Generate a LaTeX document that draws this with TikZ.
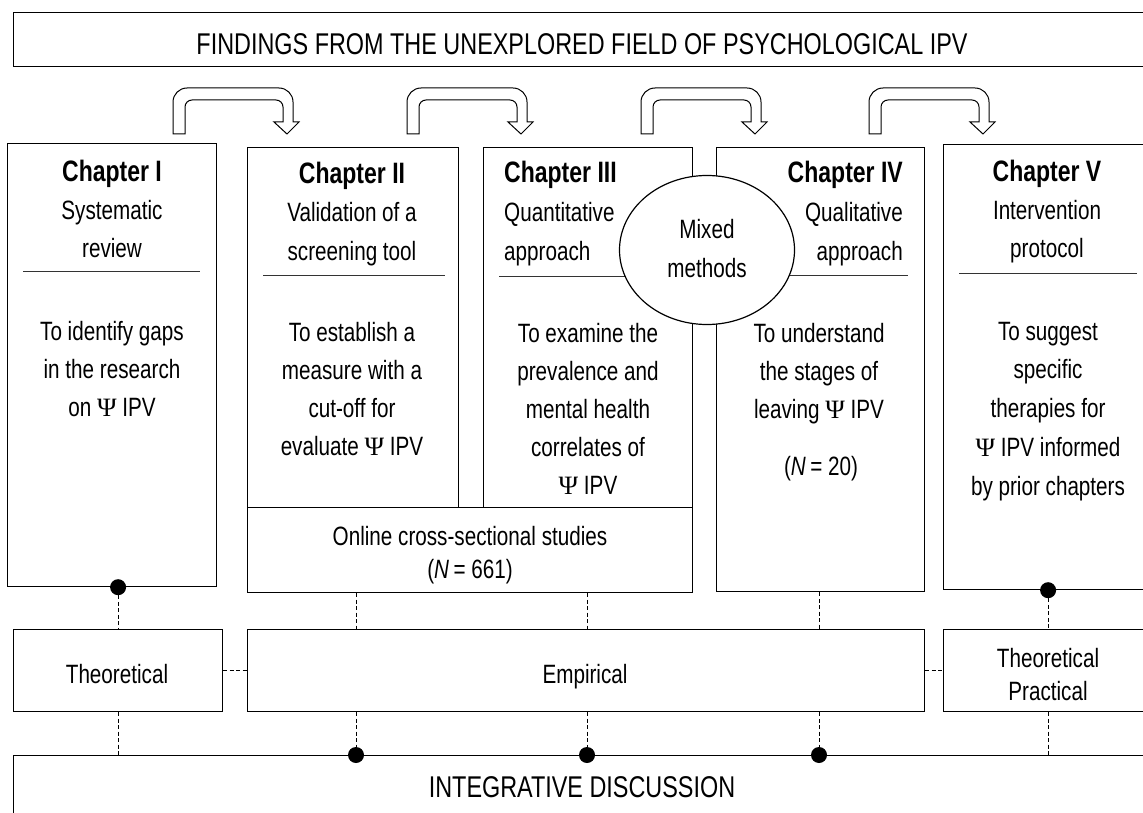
\documentclass[tikz,border=0pt]{standalone}
\usepackage{fontspec}
\setmainfont{Liberation Sans}[FakeStretch=0.78]
\newfontfamily\psifont{Liberation Serif}
\usetikzlibrary{shapes.geometric}
\newcommand\PsiS{{\psifont Ψ}}
\newcommand\uturnarrow[1]{%
  \begin{scope}[shift={(#1,0)}]
  \draw[line width=1pt, fill=white]
    (0,134) -- (0,102) arc[start angle=180, end angle=270, radius=14]
    -- (106,88) arc[start angle=270, end angle=360, radius=14]
    -- (120,122) -- (126,122) -- (114,134) -- (101,122) -- (110,122)
    -- (110,107) arc[start angle=0, end angle=-90, radius=7]
    -- (19,100) arc[start angle=270, end angle=180, radius=7]
    -- (12,134) -- cycle;
  \end{scope}}
\tikzset{
  box/.style={draw, line width=1.2pt, fill=white, inner sep=0pt, anchor=north west},
  txt/.style={anchor=base, inner sep=0pt, font=\fontsize{26.5}{30}\selectfont},
  txl/.style={txt, anchor=base west},
  txr/.style={txt, anchor=base east},
  head/.style={anchor=base, inner sep=0pt, font=\fontsize{29.5}{30}\selectfont\bfseries},
  big/.style={anchor=base, inner sep=0pt, font=\fontsize{30}{30}\selectfont},
  rule/.style={line width=1pt, black!80},
  dot/.style={circle, fill=black, inner sep=0pt, minimum size=16pt},
  dsh/.style={line width=0.9pt, dash pattern=on 4pt off 2.5pt},
}
\begin{document}
\begin{tikzpicture}[x=1pt, y=-1pt]
\fill[white] (0,0) rectangle (1143,813);
\useasboundingbox (0,0) rectangle (1143,813);

% title
\node[box, minimum width=1147, minimum height=54] (title) at (13,12) {};
\node[big] (titletxt) at (582,55) {FINDINGS FROM THE UNEXPLORED FIELD OF PSYCHOLOGICAL IPV};

% arrows
\uturnarrow{173}
\uturnarrow{407}
\uturnarrow{641}
\uturnarrow{869}

% chapter boxes
\node[box, minimum width=209, minimum height=443] (chI) at (7,143) {};
\node[box, minimum width=211, minimum height=360] (chII) at (247,147) {};
\node[box, minimum width=209, minimum height=360] (chIII) at (483,147) {};
\node[box, minimum width=445, minimum height=85] (online) at (247,507) {};
\node[box, minimum width=208, minimum height=444] (chIV) at (716,147) {};
\node[box, minimum width=209, minimum height=445] (chV) at (943,144) {};

% rules
\draw[rule] (23,271) -- (200,271);
\draw[rule] (263,275) -- (445,275);
\draw[rule] (499,276) -- (660,276);
\draw[rule] (760,275) -- (908,275);
\draw[rule] (959,273) -- (1137,273);

% mixed methods
\node[draw, ellipse, line width=1.2pt, fill=white, inner sep=0pt,
      minimum width=175pt, minimum height=149pt] (mix) at (707,250) {};
\node[txt] (mix1) at (707,238) {Mixed};
\node[txt] (mix2) at (707,277) {methods};

% Chapter I
\node[head] (h1) at (112,182) {Chapter I};
\node[txt] (s1a) at (112,220) {Systematic};
\node[txt] (s1b) at (112,258) {review};
\node[txt] (b1a) at (112,340) {To identify gaps};
\node[txt] (b1b) at (112,378) {in the research};
\node[txt] (b1c) at (112,416) {on \PsiS\ IPV};

% Chapter II
\node[head] (h2) at (352,184) {Chapter II};
\node[txt] (s2a) at (352,222) {Validation of a};
\node[txt] (s2b) at (352,260) {screening tool};
\node[txt] (b2a) at (352,341) {To establish a};
\node[txt] (b2b) at (352,379) {measure with a};
\node[txt] (b2c) at (352,417) {cut-off for};
\node[txt] (b2d) at (352,455) {evaluate \PsiS\ IPV};

% Chapter III
\node[head, anchor=base west] (h3) at (504,183) {Chapter III};
\node[txl] (s3a) at (504,222) {Quantitative};
\node[txl] (s3b) at (504,260) {approach};
\node[txt] (b3a) at (588,342) {To examine the};
\node[txt] (b3b) at (588,380) {prevalence and};
\node[txt] (b3c) at (588,418) {mental health};
\node[txt] (b3d) at (588,456) {correlates of};
\node[txt] (b3e) at (588,494) {\PsiS\ IPV};

% Chapter IV
\node[head, anchor=base east] (h4) at (903,183) {Chapter IV};
\node[txr] (s4a) at (903,222) {Qualitative};
\node[txr] (s4b) at (903,260) {approach};
\node[txt] (b4a) at (819,342) {To understand};
\node[txt] (b4b) at (819,380) {the stages of};
\node[txt] (b4c) at (819,418) {leaving \PsiS\ IPV};
\node[txt] (b4d) at (821,475) {({\itshape N}\,= 20)};

% Chapter V
\node[head] (h5) at (1047,182) {Chapter V};
\node[txt] (s5a) at (1047,220) {Intervention};
\node[txt] (s5b) at (1047,258) {protocol};
\node[txt] (b5a) at (1048,340) {To suggest};
\node[txt] (b5b) at (1048,378) {specific};
\node[txt] (b5c) at (1048,417) {therapies for};
\node[txt] (b5d) at (1048,456) {\PsiS\ IPV informed};
\node[txt] (b5e) at (1048,495) {by prior chapters};

% online text
\node[txt] (o1) at (470,545) {Online cross-sectional studies};
\node[txt] (o2) at (470,578) {({\itshape N}\,= 661)};

% lower boxes
\node[box, minimum width=209, minimum height=82] (theo) at (13,629) {};
\node[box, minimum width=677, minimum height=82] (emp) at (247,629) {};
\node[box, minimum width=209, minimum height=82] (tp) at (943,629) {};
\node[box, minimum width=1147, minimum height=80] (integ) at (13,755) {};

\node[txt] (theotxt) at (117,683) {Theoretical};
\node[txt] (emptxt) at (585,683) {Empirical};
\node[txt] (tp1) at (1048,667) {Theoretical};
\node[txt] (tp2) at (1048,700) {Practical};
\node[big] (integtxt) at (582,797) {INTEGRATIVE DISCUSSION};

% dots
\node[dot] (d1) at (theo.north |- chI.south) {};
\node[dot] (d2) at (chV.south) {};
\node[dot] (d3) at (356,755) {};
\node[dot] (d4) at (587,755) {};
\node[dot] (d5) at (819,755) {};

% dashed connectors
\draw[dsh] (d1) -- (theo.north);
\draw[dsh] (theo.south) -- (theo.south |- integ.north);
\draw[dsh] (d2) -- (d2 |- tp.north);
\draw[dsh] (tp.south -| d2) -- (d2 |- integ.north);
\draw[dsh] (d3 |- online.south) -- (d3 |- emp.north);
\draw[dsh] (d3 |- emp.south) -- (d3);
\draw[dsh] (d4 |- online.south) -- (d4 |- emp.north);
\draw[dsh] (d4 |- emp.south) -- (d4);
\draw[dsh] (d5 |- chIV.south) -- (d5 |- emp.north);
\draw[dsh] (d5 |- emp.south) -- (d5);
\draw[dsh] (theo.east) -- (emp.west);
\draw[dsh] (emp.east) -- (tp.west);
\end{tikzpicture}
\end{document}
